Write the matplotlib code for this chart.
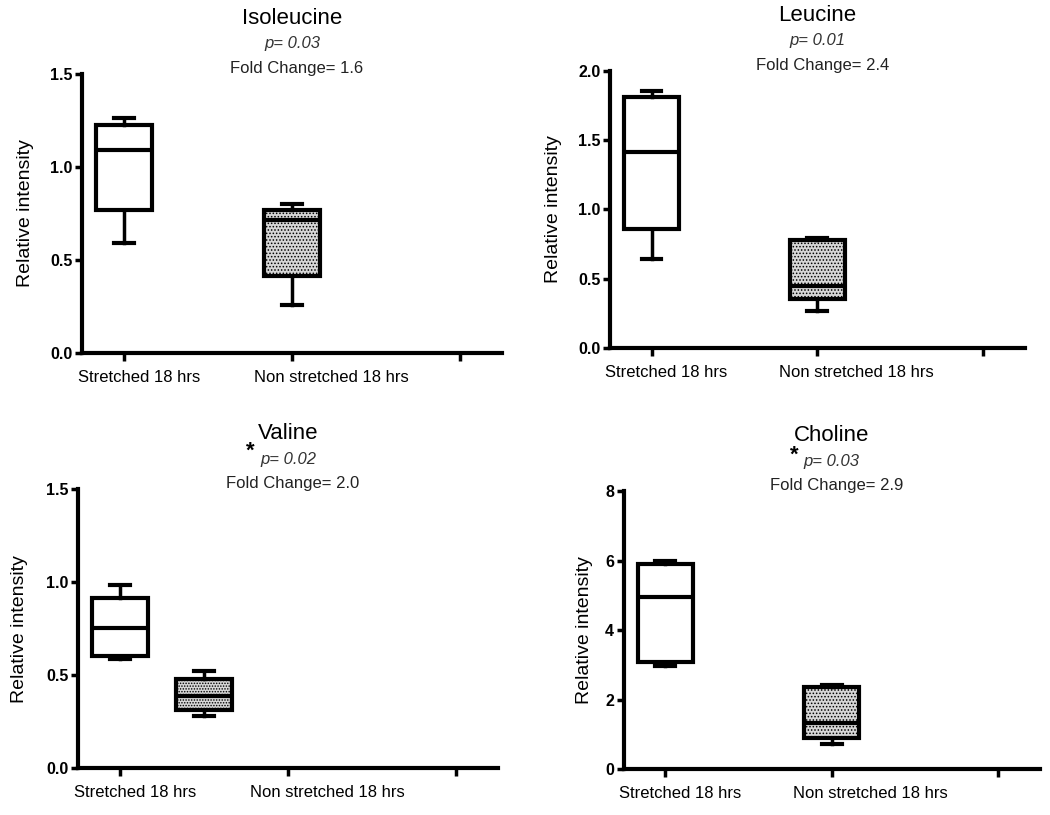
import matplotlib
matplotlib.use("Agg")
import matplotlib.pyplot as plt

plt.rcParams['font.family'] = ['Liberation Sans', 'DejaVu Sans']
plt.rcParams['hatch.linewidth'] = 0.7

# box stats: (whislo, q1, med, q3, whishi)
groups = ["Stretched 18 hrs", "Non stretched 18 hrs"]
titles = ["Isoleucine", "Leucine", "Valine", "Choline"]
p_values = ["p= 0.03", "p= 0.01", "p= 0.02", "p= 0.03"]
fold_changes = ["Fold Change= 1.6", "Fold Change= 2.4", "Fold Change= 2.0", "Fold Change= 2.9"]
starred = [False, False, True, True]

isoleucine = [(0.59, 0.77, 1.09, 1.226, 1.263), (0.258, 0.415, 0.715, 0.77, 0.80)]
leucine = [(0.643, 0.859, 1.417, 1.81, 1.858), (0.269, 0.354, 0.448, 0.78, 0.792)]
valine = [(0.589, 0.602, 0.751, 0.916, 0.985), (0.278, 0.311, 0.39, 0.481, 0.523)]
choline = [(2.98, 3.09, 4.96, 5.91, 5.99), (0.72, 0.89, 1.32, 2.37, 2.41)]
all_stats = [isoleucine, leucine, valine, choline]

y_limits = [(0, 1.5), (0, 2.0), (0, 1.5), (0, 8)]
y_ticks = [[0, 0.5, 1.0, 1.5], [0, 0.5, 1.0, 1.5, 2.0], [0, 0.5, 1.0, 1.5], [0, 2, 4, 6, 8]]
y_fmt = ["{:.1f}", "{:.1f}", "{:.1f}", "{:.0f}"]
box_positions = [[1, 2], [1, 2], [1, 1.5], [1, 2]]

# axes rectangles [left, bottom, width, height] in figure fractions
rects = [[0.0781, 0.5669, 0.400, 0.3423],
         [0.5810, 0.5730, 0.395, 0.3400],
         [0.0743, 0.0577, 0.400, 0.3420],
         [0.5940, 0.0564, 0.396, 0.3410]]
ylabel_x = [-0.115, -0.115, -0.118, -0.075]
hatch_style = ['.....', '.....', '......', '.....']
star_pos = [None, None, (0.41, 1.135), (0.41, 1.13)]

fig = plt.figure(figsize=(10.5, 8.15), dpi=100)

for i in range(4):
    ax = fig.add_axes(rects[i])
    stats = []
    for s in all_stats[i]:
        stats.append(dict(whislo=s[0], q1=s[1], med=s[2], q3=s[3], whishi=s[4], fliers=[]))
    bp = ax.bxp(stats, positions=box_positions[i], widths=0.33, capwidths=0.12,
                patch_artist=True, showfliers=False,
                boxprops=dict(linewidth=3, edgecolor='black'),
                medianprops=dict(color='black', linewidth=3),
                whiskerprops=dict(color='black', linewidth=2.5),
                capprops=dict(color='black', linewidth=3))
    bp['boxes'][0].set_facecolor('white')
    bp['boxes'][1].set_facecolor('#d6d6d6')
    bp['boxes'][1].set_hatch(hatch_style[i])

    ax.set_xlim(0.75, 3.25)
    ax.set_ylim(*y_limits[i])
    ax.set_yticks(y_ticks[i])
    ax.set_yticklabels([y_fmt[i].format(v) for v in y_ticks[i]], fontweight='bold', fontsize=11.5)
    ax.set_xticks([1, 2, 3])
    ax.set_xticklabels(['', '', ''])
    ax.set_xticks([1.09, 2.235], minor=True)
    ax.set_xticklabels(groups, minor=True, fontsize=12)
    ax.tick_params(axis='x', which='minor', length=0, pad=12)
    ax.tick_params(axis='x', which='major', length=6, width=2.5)
    ax.tick_params(axis='y', length=5, width=2.5, pad=2)

    for side in ['top', 'right']:
        ax.spines[side].set_visible(False)
    for side in ['left', 'bottom']:
        ax.spines[side].set_linewidth(3)

    ax.set_ylabel("Relative intensity", fontsize=14)
    ax.yaxis.set_label_coords(ylabel_x[i], 0.5)

    ax.text(0.5, 1.2, titles[i], transform=ax.transAxes, ha='center', va='center', fontsize=16)
    ax.text(0.5, 1.108, p_values[i], transform=ax.transAxes, ha='center', va='center',
            fontsize=12, style='italic', color='#333333')
    ax.text(0.512, 1.02, fold_changes[i], transform=ax.transAxes, ha='center', va='center',
            fontsize=12, color='#222222')
    if starred[i]:
        ax.text(star_pos[i][0], star_pos[i][1], "*", transform=ax.transAxes, ha='center',
                va='center', fontsize=16, fontweight='bold')

fig.savefig("out.png", dpi=100)
